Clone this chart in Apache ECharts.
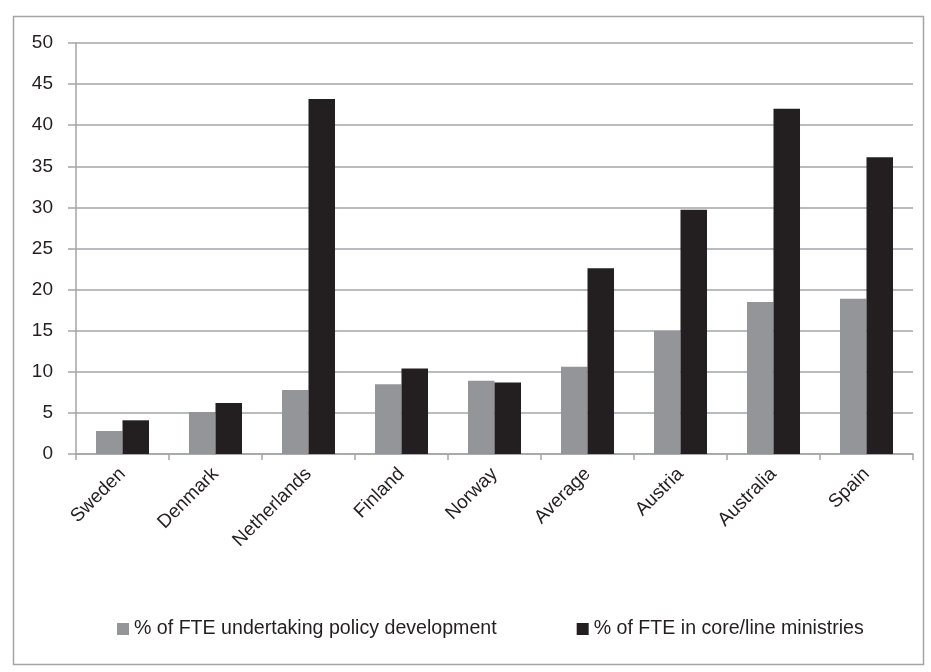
<!DOCTYPE html>
<html>
<head>
<meta charset="utf-8">
<script src="https://cdn.jsdelivr.net/npm/echarts@6/dist/echarts.min.js"></script>
<style>
html,body{margin:0;padding:0;background:#fff;}
#chart{width:931px;height:672px;}
</style>
</head>
<body>
<div id="chart"></div>
<script>
const categories = ['Sweden','Denmark','Netherlands','Finland','Norway','Average','Austria','Australia','Spain'];
const policyDev = [2.8, 5.1, 7.8, 8.5, 8.9, 10.6, 15.0, 18.5, 18.9];
const coreLine = [4.1, 6.2, 43.2, 10.4, 8.7, 22.6, 29.7, 42.0, 36.1];
const seriesNames = ['% of FTE undertaking policy development', '% of FTE in core/line ministries'];
const yTicks = { min: 0, max: 50, interval: 5 };

const FONT = '"Liberation Sans", Arial, sans-serif';
const TXT = '#231f20';
const LINE = '#a3a5a8';

const chart = echarts.init(document.getElementById('chart'), null, {renderer:'canvas'});
chart.setOption({
  animation: false,
  backgroundColor: '#ffffff',
  textStyle: { fontFamily: FONT },
  graphic: [{
    type: 'rect', left: 11, top: 14,
    shape: { width: 910, height: 648 },
    style: { fill: 'none', stroke: LINE, lineWidth: 1.5 }
  }],
  grid: { left: 76, right: 18, top: 43, bottom: 218, containLabel: false },
  legend: {
    data: seriesNames,
    left: 112, top: 614,
    itemWidth: 12, itemHeight: 12, itemGap: 80,
    icon: 'rect',
    textStyle: { fontSize: 19.6, color: TXT, fontFamily: FONT }
  },
  xAxis: {
    type: 'category', data: categories, boundaryGap: true,
    axisLine: { lineStyle: { color: LINE, width: 1.5 } },
    axisTick: { show: true, length: 6, alignWithLabel: false, lineStyle: { color: LINE, width: 1.5 } },
    axisLabel: { rotate: 45, fontSize: 19, color: TXT, margin: 17, fontFamily: FONT, interval: 0 }
  },
  yAxis: {
    type: 'value', min: yTicks.min, max: yTicks.max, interval: yTicks.interval,
    axisLine: { show: true, lineStyle: { color: LINE, width: 1.5 } },
    axisTick: { show: true, length: 8, lineStyle: { color: LINE, width: 1.5 } },
    axisLabel: { fontSize: 19, color: TXT, margin: 23, fontFamily: FONT },
    splitLine: { show: true, lineStyle: { color: LINE, width: 1.5 } }
  },
  series: [
    { name: seriesNames[0], type: 'bar', data: policyDev, barGap: '0%', barCategoryGap: '43%',
      itemStyle: { color: '#939598' } },
    { name: seriesNames[1], type: 'bar', data: coreLine, barGap: '0%', barCategoryGap: '43%',
      itemStyle: { color: '#231f20' } }
  ]
});
</script>
</body>
</html>
